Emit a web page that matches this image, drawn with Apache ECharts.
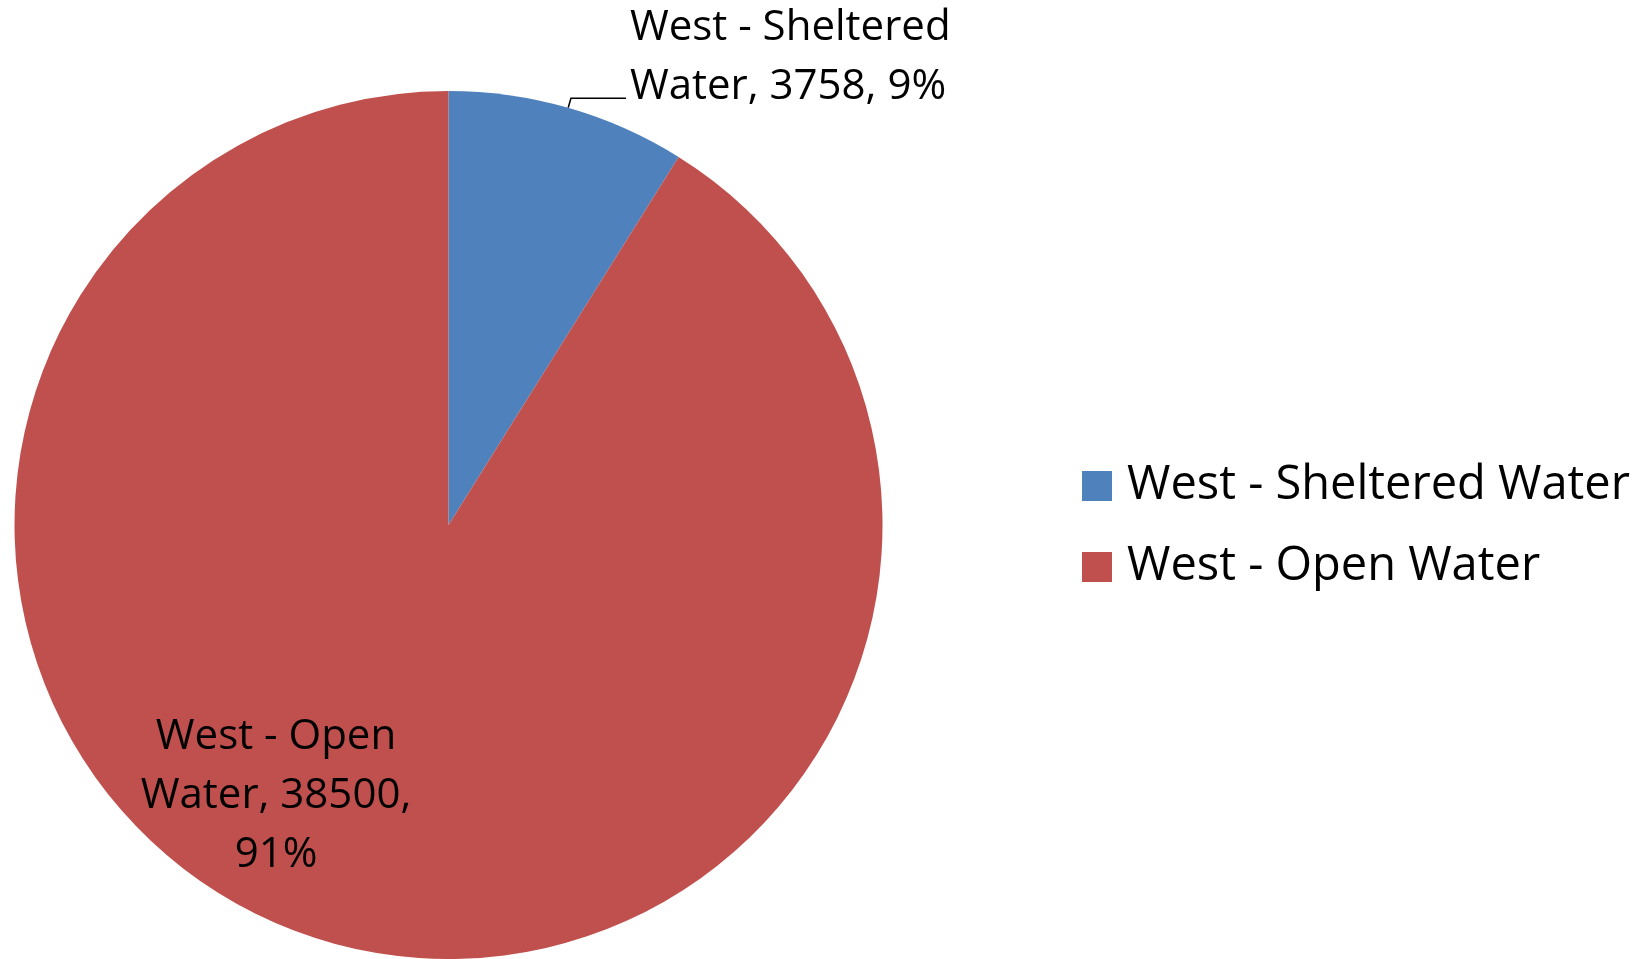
<!DOCTYPE html>
<html>
<head>
<meta charset="utf-8">
<script src="https://cdn.jsdelivr.net/npm/echarts@6/dist/echarts.min.js"></script>
<style>
    html, body { margin: 0; padding: 0; background: #ffffff; }
    #main { width: 1647px; height: 959px; }
</style>
</head>
<body>
<div id="main"></div>
<script>
    // 数据
    var categories = ['West - Sheltered Water', 'West - Open Water'];
    var values = [3758, 38500];
    var colors = ['#4F81BD', '#C0504D'];

    var pieData = new Array();
    for (var i = 0; i < categories.length; i++) {
        pieData.push({ name: categories[i], value: values[i], itemStyle: { color: colors[i] } });
    }
    // first slice: label outside with leader line
    pieData[0].label = {
        position: 'outside',
        distanceToLabelLine: 4
    };
    pieData[0].labelLine = { show: true, length: 10, length2: 55 };
    // second slice: label inside
    pieData[1].label = { position: 'inside' };
    pieData[1].labelLine = { show: false };

    var chart = echarts.init(document.getElementById('main'));
    var option = {
        backgroundColor: '#ffffff',
        animation: false,
        legend: {
            orient: 'vertical',
            left: 1082,
            top: 461,
            padding: 0,
            itemWidth: 30,
            itemHeight: 30,
            itemGap: 31,
            icon: 'rect',
            textStyle: {
                fontFamily: 'Open Sans',
                fontSize: 47,
                lineHeight: 50,
                color: '#000000',
                padding: [0, 0, 0, 10]
            },
            data: categories
        },
        series: [
            {
                type: 'pie',
                center: [448.5, 525],
                radius: 434,
                startAngle: 90,
                clockwise: true,
                percentPrecision: 0,
                avoidLabelOverlap: false,
                itemStyle: { borderWidth: 0 },
                label: {
                    show: true,
                    color: '#000000',
                    fontFamily: 'Open Sans',
                    fontSize: 42,
                    lineHeight: 59,
                    formatter: function (p) {
                        var txt = p.name.replace(/ (\S+)$/, '\n$1') + ', ' + p.value +
                            (p.dataIndex ? ',\n' : ', ') + p.percent + '%';
                        // outside label sits above its leader line
                        return p.dataIndex ? txt : txt + '\n{pad| }';
                    },
                    rich: {
                        pad: { fontSize: 4, lineHeight: 81 }
                    }
                },
                labelLine: {
                    lineStyle: { color: '#000000', width: 1.5 },
                    smooth: false
                },
                labelLayout: function (params) {
                    if (params.dataIndex === 1) {
                        return { x: 276, y: 796, align: 'center', verticalAlign: 'middle' };
                    }
                },
                emphasis: { disabled: true },
                data: pieData
            }
        ]
    };
    chart.setOption(option);
</script>
</body>
</html>
